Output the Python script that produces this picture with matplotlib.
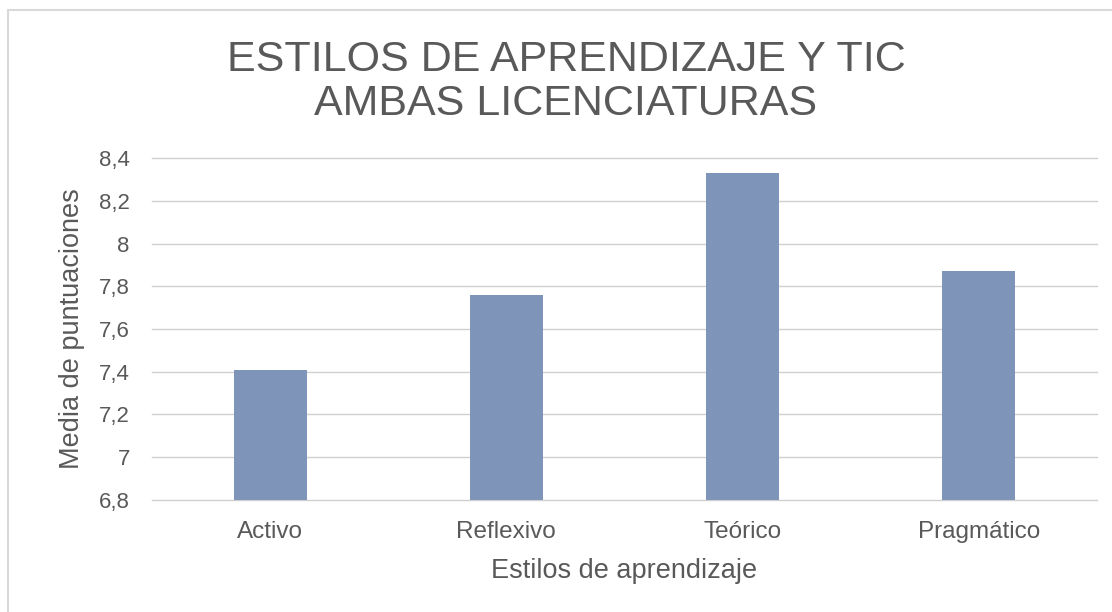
import matplotlib.pyplot as plt
from matplotlib.ticker import FuncFormatter, MultipleLocator
from matplotlib.patches import Rectangle

estilos = ["Activo", "Reflexivo", "Teórico", "Pragmático"]
medias = [7.41, 7.76, 8.33, 7.87]

plt.rcParams['font.family'] = ['Liberation Sans', 'DejaVu Sans']
gris = "#595959"

fig = plt.figure(figsize=(11.12, 6.12), dpi=100)
ax = fig.add_axes([152 / 1112, 1 - 500 / 612, (1097 - 152) / 1112, (500 - 158) / 612])

x = range(len(estilos))
ax.bar(x, medias, width=0.31, color="#7f94b9", zorder=3)

ax.set_xlim(-0.5, len(estilos) - 0.5)
ax.set_ylim(6.8, 8.4)
ax.yaxis.set_major_locator(MultipleLocator(0.2))
ax.yaxis.set_major_formatter(FuncFormatter(lambda v, p: ("%g" % round(v, 1)).replace(".", ",")))
ax.set_xticks(list(x))
ax.set_xticklabels(estilos)
ax.tick_params(axis="y", length=0, labelsize=16, colors=gris, pad=16)
ax.tick_params(axis="x", length=0, labelsize=17.5, colors=gris, pad=15)
ax.grid(axis="y", color="#d0d0d0", linewidth=1, zorder=0)
for gl in ax.get_ygridlines():
    gl.set_clip_on(False)
for s in ax.spines.values():
    s.set_visible(False)

ax.set_xlabel("Estilos de aprendizaje", fontsize=19.5, color=gris, labelpad=11)
ax.set_ylabel("Media de puntuaciones", fontsize=19.5, color=gris, labelpad=10)

fig.text(566 / 1112, 1 - 82 / 612, "ESTILOS DE APRENDIZAJE Y TIC\nAMBAS LICENCIATURAS",
         ha="center", va="center", fontsize=31, color=gris, linespacing=1.15)

fig.patches.append(Rectangle((8 / 1112, -0.1), 1.2, 1 - 10 / 612 + 0.1, transform=fig.transFigure,
                             fill=False, edgecolor="#d9d9d9", linewidth=1.5))

fig.savefig("out.png", dpi=100, facecolor="white")
